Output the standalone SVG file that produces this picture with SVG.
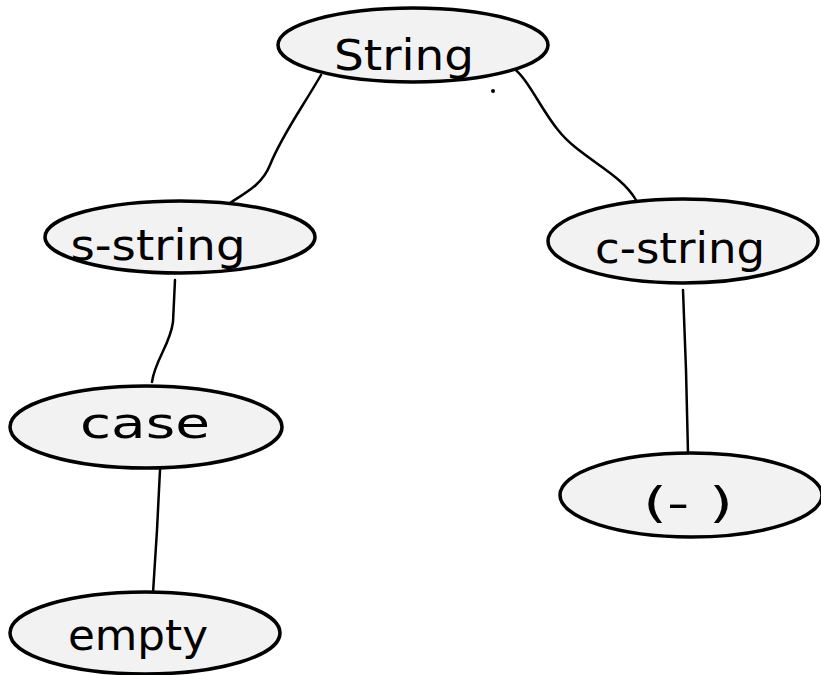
<svg xmlns="http://www.w3.org/2000/svg" width="821" height="675" viewBox="0 0 821 675">
  <style>
    .node ellipse { fill: #f2f2f2; stroke: #000; stroke-width: 3.5; }
    .node text { font-family: "DejaVu Sans", "Liberation Sans", sans-serif; fill: #000; text-anchor: middle; font-size: 42px; }
    .edges path { fill: none; stroke: #000; stroke-width: 2.5; stroke-linecap: round; }
  </style>
  <rect width="821" height="675" fill="#fff"/>
  <g id="connectors" class="edges">
    <path d="M321,75 C302,108 282,135 270,165 C262,185 245,193 230,203"/>
    <path d="M512,67 C528,78 540,108 558,130 C580,158 620,172 636,200"/>
    <path d="M175,280 L173,322 C170,345 155,360 152,382"/>
    <path d="M160,470 L157,530 L153,593"/>
    <path d="M683,290 L686,370 L688,453"/>
  </g>
  <g id="node-string" class="node">
    <ellipse cx="413" cy="45" rx="135" ry="37"/>
    <text x="404" y="70" textLength="140" lengthAdjust="spacingAndGlyphs">String</text>
    <circle cx="493" cy="91" r="2" fill="#000"/>
  </g>
  <g id="node-s-string" class="node">
    <ellipse cx="180" cy="237" rx="135" ry="36"/>
    <text x="158" y="260" textLength="175" lengthAdjust="spacingAndGlyphs">s-string</text>
  </g>
  <g id="node-c-string" class="node">
    <ellipse cx="683" cy="241" rx="135" ry="42"/>
    <text x="680" y="263" textLength="170" lengthAdjust="spacingAndGlyphs">c-string</text>
  </g>
  <g id="node-case" class="node">
    <ellipse cx="146" cy="427" rx="136" ry="41"/>
    <text x="145" y="438" textLength="130" lengthAdjust="spacingAndGlyphs">case</text>
  </g>
  <g id="node-empty" class="node">
    <ellipse cx="145" cy="633" rx="135" ry="41"/>
    <text x="138" y="650" textLength="140" lengthAdjust="spacingAndGlyphs">empty</text>
  </g>
  <g id="node-unit" class="node">
    <ellipse cx="691" cy="495" rx="131" ry="42"/>
    <text x="688" y="518" textLength="90" lengthAdjust="spacingAndGlyphs">(- )</text>
  </g>
</svg>
